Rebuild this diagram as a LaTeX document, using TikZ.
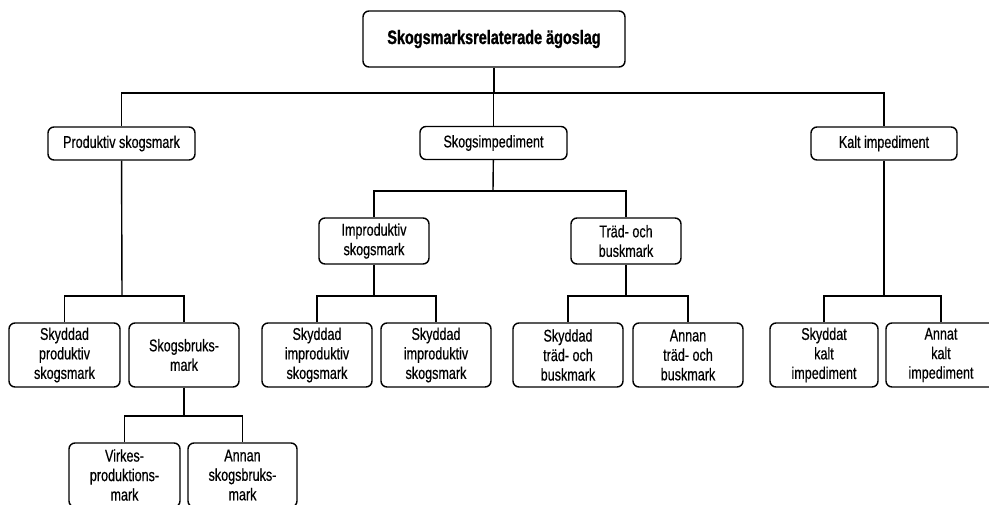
\documentclass[tikz,border=0pt]{standalone}
\usepackage{fontspec}
\setmainfont[FakeStretch=0.74,FakeBold=0.5,
  BoldFeatures={FakeStretch=0.74,FakeBold=1.2}]{Liberation Sans}
\begin{document}
\begin{tikzpicture}[x=1pt,y=-1pt,
  box/.style={draw=black,line width=1.4pt,rounded corners=6pt,fill=white,
    inner sep=0pt,align=center,font=\fontsize{17}{19.5}\selectfont},
  wide/.style={box,minimum width=147pt,minimum height=33pt},
  leaf/.style={box,minimum width=110pt,minimum height=64pt},
  mid/.style={box,minimum width=110pt,minimum height=46pt},
  link/.style={line width=1.4pt}]
\useasboundingbox (0,0) rectangle (989,504);
\begin{scope}
\clip (0,0) rectangle (989,504);
% root
\node[box,minimum width=262pt,minimum height=56pt,
  font=\fontsize{19.5}{22}\selectfont\bfseries] (root) at (494,39) {Skogsmarksrelaterade ägoslag};
% second level
\node[wide] (prod) at (121.5,143.5) {Produktiv skogsmark};
\node[wide] (simp) at (493.5,143) {Skogsimpediment};
\node[wide,minimum width=146pt] (kalt) at (884,143.5) {Kalt impediment};
% third level under Skogsimpediment
\node[mid] (improd) at (374,241) {Improduktiv\\skogsmark};
\node[mid] (trad) at (626,241) {Träd- och\\buskmark};
% leaves
\node[leaf,minimum width=111pt] (spm) at (64.5,355) {Skyddad\\produktiv\\skogsmark};
\node[leaf] (sbm) at (184,355) {Skogsbruks-\\mark};
\node[leaf] (si1) at (317,355) {Skyddad\\improduktiv\\skogsmark};
\node[leaf] (si2) at (436,355) {Skyddad\\improduktiv\\skogsmark};
\node[leaf] (st) at (568,355) {Skyddad\\träd- och\\buskmark};
\node[leaf] (at) at (688,355) {Annan\\träd- och\\buskmark};
\node[leaf,minimum width=108pt] (sk) at (824,355) {Skyddat\\kalt\\impediment};
\node[leaf] (ak) at (941,355) {Annat\\kalt\\impediment};
% under Skogsbruksmark
\node[leaf,minimum width=111pt] (vp) at (124.5,475) {Virkes-\\produktions-\\mark};
\node[leaf,minimum width=109pt] (as) at (242.5,475) {Annan\\skogsbruks-\\mark};
% branching points
\coordinate (b0) at (494,93);
\coordinate (b1) at (122,296);
\coordinate (b2) at (493,191);
\coordinate (b3) at (374,296);
\coordinate (b4) at (626,296);
\coordinate (b5) at (884,296);
\coordinate (b6) at (184,416);
% connectors
\draw[link] (root) -- (b0);
\draw[link] (b0) -| (prod);
\draw[link] (b0) -| (simp);
\draw[link] (b0) -| (kalt);
\draw[link] (prod) -- (b1);
\draw[link] (b1) -| (spm);
\draw[link] (b1) -| (sbm);
\draw[link] (simp) -- (b2);
\draw[link] (b2) -| (improd);
\draw[link] (b2) -| (trad);
\draw[link] (improd) -- (b3);
\draw[link] (b3) -| (si1);
\draw[link] (b3) -| (si2);
\draw[link] (trad) -- (b4);
\draw[link] (b4) -| (st);
\draw[link] (b4) -| (at);
\draw[link] (kalt) -- (b5);
\draw[link] (b5) -| (sk);
\draw[link] (b5) -| (ak);
\draw[link] (sbm) -- (b6);
\draw[link] (b6) -| (vp);
\draw[link] (b6) -| (as);
\end{scope}
\end{tikzpicture}
\end{document}
